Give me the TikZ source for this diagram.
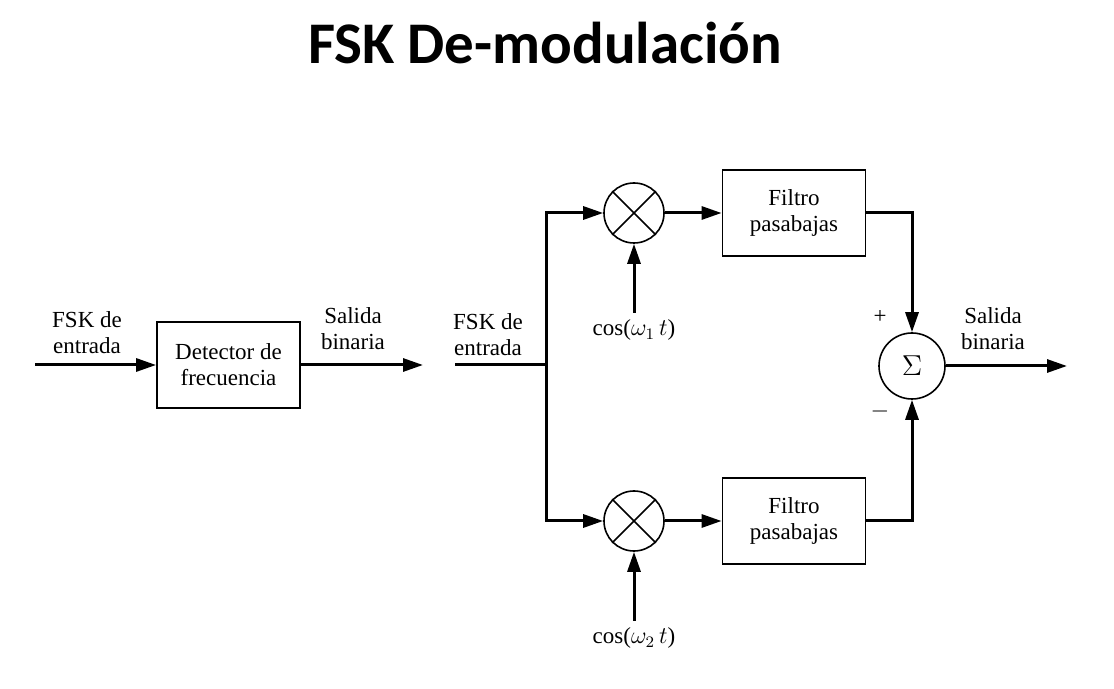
\documentclass[tikz,border=0pt]{standalone}
\usepackage{fontspec}
\setmainfont{Liberation Serif}
\newfontfamily\titlefont{Carlito}
\usetikzlibrary{arrows.meta,positioning}

\begin{document}
\begin{tikzpicture}[x=0.5pt,y=-0.5pt,node distance=40pt,on grid,
    block/.style={draw,line width=0.9pt,minimum width=71.5pt,minimum height=43pt,align=center,font=\fontsize{11.5}{13}\selectfont},
    mixer/.style={draw,circle,line width=0.8pt,minimum size=30pt,inner sep=0pt},
    lbl/.style={align=center,font=\fontsize{11.5}{13}\selectfont},
    flow/.style={line width=1.5pt,-{Triangle[length=10pt,width=6.5pt]}},
    wire/.style={line width=1.5pt}]
  \useasboundingbox (0,0) rectangle (1114,689);
  \node[font=\titlefont\bfseries\fontsize{29.5}{34}\selectfont] (title) at (545,43) {FSK De-modulación};

  \node[block] (det) at (228.5,365) {Detector de\\frecuencia};
  \coordinate (in1) at (35,365);
  \coordinate (out1) at (423,365);
  \node[lbl] (fsk1) at (87,333) {FSK de\\entrada};
  \node[lbl] (bin1) at (353,329) {Salida\\binaria};

  \coordinate (in2) at (455,365);
  \coordinate (jn) at (546,365);
  \node[lbl] (fsk2) at (488,335) {FSK de\\entrada};
  \node[mixer] (mix1) at (634,213) {};
  \node[mixer] (mix2) [below=154pt of mix1] {};
  \node[block] (filt1) [right=80pt of mix1] {Filtro\\pasabajas};
  \node[block] (filt2) [right=80pt of mix2] {Filtro\\pasabajas};
  \node[lbl] (cos1) [below=58.5pt of mix1] {cos($\omega_1\,t$)};
  \node[lbl] (cos2) [below=58.5pt of mix2] {cos($\omega_2\,t$)};
  \node[mixer,minimum size=33pt] (sum) at (912,366) {\fontsize{15}{15}\selectfont$\Sigma$};
  \node[lbl] (plus) at (880,317) {+};
  \node[lbl] (minus) at (880,412) {$-$};
  \node[lbl] (bin2) at (993,329) {Salida\\binaria};
  \coordinate (out2) at (1067,366);

  \foreach \m in {mix1,mix2}
    \draw[line width=0.8pt] (\m.north west) -- (\m.south east) (\m.north east) -- (\m.south west);

  \draw[flow] (in1) -- (det);
  \draw[flow] (det) -- (out1);
  \draw[wire] (in2) -- (jn);
  \draw[flow] (jn) |- (mix1);
  \draw[flow] (jn) |- (mix2);
  \draw[flow] (mix1) -- (filt1);
  \draw[flow] (mix2) -- (filt2);
  \draw[flow] (filt1) -| (sum);
  \draw[flow] (filt2) -| (sum);
  \draw[flow] (sum) -- (out2);
  \draw[flow] (cos1) -- (mix1);
  \draw[flow] (cos2) -- (mix2);
\end{tikzpicture}
\end{document}
